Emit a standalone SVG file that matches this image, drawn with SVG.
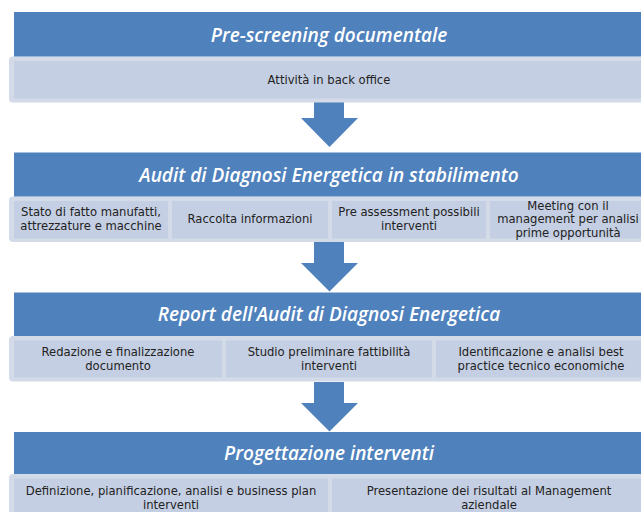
<svg xmlns="http://www.w3.org/2000/svg" width="641" height="512" viewBox="0 0 641 512">
<style>
.hdr{fill:#4F81BD}
.band{fill:#D3DAE8}
.box{fill:#C5CFE3}
.arr{fill:#4F81BD}
.title{font-family:"Open Sans","DejaVu Sans",sans-serif;font-style:italic;font-weight:600;font-size:19px;fill:#FFFFFF;text-anchor:middle}
.sub{font-family:"DejaVu Sans","Liberation Sans",sans-serif;font-size:11.6px;fill:#222222;text-anchor:middle}
</style>
<rect width="641" height="512" fill="#FFFFFF"/>
<g id="connectors">
<path class="arr" d="M314,102 H344 V118 H358 L329.5,147 L301,118 H314 Z"/>
<path class="arr" d="M314,242 H344 V263 H358 L329.5,291.5 L301,263 H314 Z"/>
<path class="arr" d="M314,382 H344 V403 H358 L329.5,431.5 L301,403 H314 Z"/>
</g>
<g id="step1">
<rect class="band" x="9" y="56.5" width="645" height="46" rx="4"/>
<rect class="hdr" x="14" y="12" width="635" height="44.5"/>
<rect class="box" x="14" y="61" width="635" height="37.5"/>
<text class="title" x="329" y="41.5">Pre-screening documentale</text>
<text class="sub" x="329" y="84">Attività in back office</text>
</g>
<g id="step2">
<rect class="band" x="9" y="196.5" width="645" height="45.5" rx="4"/>
<rect class="hdr" x="14" y="152.5" width="635" height="44"/>
<rect class="box" x="14" y="201" width="154" height="37.5"/>
<rect class="box" x="172" y="201" width="156" height="37.5"/>
<rect class="box" x="332" y="201" width="154" height="37.5"/>
<rect class="box" x="490" y="201" width="159" height="37.5"/>
<text class="title" x="329" y="181.5">Audit di Diagnosi Energetica in stabilimento</text>
<text class="sub" x="91" y="216">Stato di fatto manufatti,</text>
<text class="sub" x="91" y="230">attrezzature e macchine</text>
<text class="sub" x="250" y="223">Raccolta informazioni</text>
<text class="sub" x="409" y="216">Pre assessment possibili</text>
<text class="sub" x="409" y="230">interventi</text>
<text class="sub" x="568" y="210">Meeting con il</text>
<text class="sub" x="568" y="223">management per analisi</text>
<text class="sub" x="568" y="237">prime opportunità</text>
</g>
<g id="step3">
<rect class="band" x="9" y="336" width="645" height="45.5" rx="4"/>
<rect class="hdr" x="14" y="292.5" width="635" height="43.5"/>
<rect class="box" x="14" y="340.5" width="208" height="37"/>
<rect class="box" x="226" y="340.5" width="206" height="37"/>
<rect class="box" x="436" y="340.5" width="213" height="37"/>
<text class="title" x="329" y="320.5">Report dell'Audit di Diagnosi Energetica</text>
<text class="sub" x="118" y="356">Redazione e finalizzazione</text>
<text class="sub" x="118" y="370">documento</text>
<text class="sub" x="329" y="356">Studio preliminare fattibilità</text>
<text class="sub" x="329" y="370">interventi</text>
<text class="sub" x="541" y="356">Identificazione e analisi best</text>
<text class="sub" x="541" y="370">practice tecnico economiche</text>
</g>
<g id="step4">
<rect class="band" x="9" y="474" width="645" height="45" rx="4"/>
<rect class="hdr" x="14" y="432" width="635" height="42"/>
<rect class="box" x="14" y="478.5" width="314" height="37"/>
<rect class="box" x="332" y="478.5" width="317" height="37"/>
<text class="title" x="329" y="459.5">Progettazione interventi</text>
<text class="sub" x="171" y="495">Definizione, pianificazione, analisi e business plan</text>
<text class="sub" x="171" y="509">interventi</text>
<text class="sub" x="489" y="495">Presentazione dei risultati al Management</text>
<text class="sub" x="489" y="509">aziendale</text>
</g>
</svg>
